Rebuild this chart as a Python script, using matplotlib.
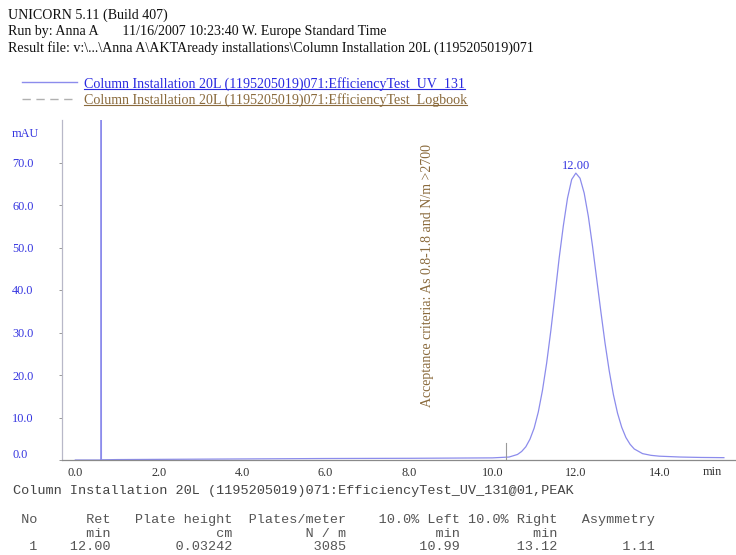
import matplotlib
matplotlib.use("Agg")
import matplotlib.pyplot as plt
from matplotlib.lines import Line2D
from matplotlib.transforms import ScaledTranslation

# ---------------- data ----------------
uv_time = [0.0, 0.615, 0.62, 0.625, 1.0, 2.0, 4.0, 6.0, 8.0, 10.0, 10.4, 10.6, 10.7,
           10.8, 10.9, 11.0, 11.1, 11.2, 11.3, 11.4, 11.5, 11.6, 11.7, 11.8, 11.9,
           12.0, 12.1, 12.2, 12.3, 12.4, 12.5, 12.6, 12.7, 12.8, 12.9, 13.0, 13.1,
           13.2, 13.3, 13.4, 13.6, 13.8, 14.0, 14.5, 15.0, 15.55]
uv_mau = [0.0, 0.0, 95.0, 0.05, 0.1, 0.15, 0.25, 0.35, 0.4, 0.5, 0.7, 1.3, 2.0,
          3.1, 4.9, 7.5, 11.3, 16.4, 22.8, 30.4, 38.8, 47.5, 55.1, 61.6, 66.0,
          67.5, 66.3, 62.8, 57.3, 50.3, 42.6, 34.9, 27.5, 21.0, 15.4, 11.0, 7.7,
          5.3, 3.7, 2.6, 1.5, 1.1, 0.9, 0.7, 0.6, 0.55]
log_time = [10.33]
log_height = [4.0]
peak_time = 12.00
peak_height = 67.5
peak_label = "12.00"
note_time = 8.45
note_mau = 12.5
note_text = "Acceptance criteria: As 0.8-1.8 and N/m >2700"

yticks = [0, 10, 20, 30, 40, 50, 60, 70]
ytick_labels = ["0.0", "10.0", "20.0", "30.0", "40.0", "50.0", "60.0", "70.0"]
xticks = [0, 2, 4, 6, 8, 10, 12, 14]
xtick_labels = ["0.0", "2.0", "4.0", "6.0", "8.0", "10.0", "12.0", "14.0"]

header_lines = ["UNICORN 5.11 (Build 407)",
                "Run by: Anna A       11/16/2007 10:23:40 W. Europe Standard Time",
                "Result file: v:\\...\\Anna A\\AKTAready installations\\Column Installation 20L (1195205019)071"]
legend_uv = "Column Installation 20L (1195205019)071:EfficiencyTest_UV_131"
legend_log = "Column Installation 20L (1195205019)071:EfficiencyTest_Logbook"
table_title = "Column Installation 20L (1195205019)071:EfficiencyTest_UV_131@01,PEAK"
table_header = ["No", "Ret", "Plate height", "Plates/meter", "10.0% Left", "10.0% Right", "Asymmetry"]
table_units = ["", "min", "cm", "N / m", "min", "min", ""]
table_values = ["1", "12.00", "0.03242", "3085", "10.99", "13.12", "1.11"]

# ---------------- styling ----------------
W, H = 736, 555
UV_COLOR = "#8c8cec"
BLUE_TXT = "#3535e0"
BROWN = "#8a6a3c"
GRAY = "#9a9a9a"
SERIF = ["Liberation Serif", "DejaVu Serif"]
MONO = ["Liberation Mono", "DejaVu Sans Mono"]
col_ends = [3, 12, 27, 41, 55, 67, 79]   # right-aligned column end (character index)

def fixed_row(tokens):
    s = ""
    for tok, end in zip(tokens, col_ends):
        s = s.ljust(end - len(tok)) + tok if tok else s
    return s

fig = plt.figure(figsize=(W / 100, H / 100), dpi=100)

def px(x, y):
    return x / W, 1 - y / H

# axes placement
left, right, top, bottom = 62, 736, 120, 460
ax = fig.add_axes([left / W, 1 - bottom / H, (right - left) / W, (bottom - top) / H])
ax.set_xlim(-0.32, 15.84)
ax.set_ylim(0, 80)
for s in ["top", "right"]:
    ax.spines[s].set_visible(False)
ax.spines["left"].set_color("#b8b8c8")
ax.spines["bottom"].set_color("#8a8a8a")
ax.spines["left"].set_linewidth(0.9)
ax.spines["bottom"].set_linewidth(0.9)

ax.plot(uv_time, uv_mau, color=UV_COLOR, lw=0.9)
for t, h in zip(log_time, log_height):
    ax.plot([t, t], [0, h], color=GRAY, lw=0.8)

ax.annotate(peak_label, xy=(peak_time, peak_height), xytext=(0, 1), textcoords="offset points",
            ha="center", va="bottom", color=BLUE_TXT, fontsize=9, family=SERIF)
ax.text(note_time, note_mau, note_text, rotation=90, ha="center", va="bottom",
        color=BROWN, fontsize=10, family=SERIF)

ax.set_yticks(yticks)
ax.set_yticklabels(ytick_labels, family=SERIF, fontsize=8.8, color=BLUE_TXT)
ax.tick_params(axis="y", length=2, width=0.6, color="#888888", pad=(62 - 13 - 2) * 0.72)
for lab in ax.get_yticklabels():
    lab.set_ha("left")
ylabs = ax.get_yticklabels()
ylabs[0].set_transform(ylabs[0].get_transform() + ScaledTranslation(0, 7 / 100, fig.dpi_scale_trans))

ax.set_xticks(xticks)
ax.set_xticklabels(xtick_labels, family=SERIF, fontsize=8.8, color="#333333")
ax.tick_params(axis="x", length=0, pad=5)

fig.text(*px(12, 134), "mAU", family=SERIF, fontsize=8.8, color=BLUE_TXT, ha="left", va="center")
fig.text(*px(712, 472), "min", family=SERIF, fontsize=8.8, color="#333333", ha="center", va="center")

# header
for i, line in enumerate(header_lines):
    fig.text(*px(8, 15 + 16.5 * i), line, family=SERIF, fontsize=10.1, color="#111111",
             ha="left", va="center")

# legend
fig.add_artist(Line2D([22 / W, 77 / W], [1 - 82 / H, 1 - 82 / H], color=UV_COLOR, lw=1.0))
fig.add_artist(Line2D([22 / W, 77 / W], [1 - 99 / H, 1 - 99 / H], color="#b0b0b0", lw=1.0,
                      linestyle=(0, (6, 4))))
t1 = fig.text(*px(84, 84), legend_uv, family=SERIF, fontsize=10.1, color="#2a2ae0", ha="left", va="center")
t2 = fig.text(*px(84, 100), legend_log, family=SERIF, fontsize=10.1, color=BROWN, ha="left", va="center")
fig.canvas.draw()
r = fig.canvas.get_renderer()
for t, c in [(t1, "#2a2ae0"), (t2, BROWN)]:
    bb = t.get_window_extent(r)
    yb = bb.y0 + 1.5
    fig.add_artist(Line2D([bb.x0 / W, bb.x1 / W], [yb / H, yb / H], color=c, lw=0.8))

# peak table
fig.text(*px(13, 491), table_title, family=MONO, fontsize=9.7, color="#444444", ha="left", va="center")
for i, tokens in enumerate([table_header, table_units, table_values]):
    fig.text(*px(13, 520 + 13.7 * i), fixed_row(tokens), family=MONO, fontsize=9.7,
             color="#555555", ha="left", va="center")

fig.savefig("out.png", dpi=100)
